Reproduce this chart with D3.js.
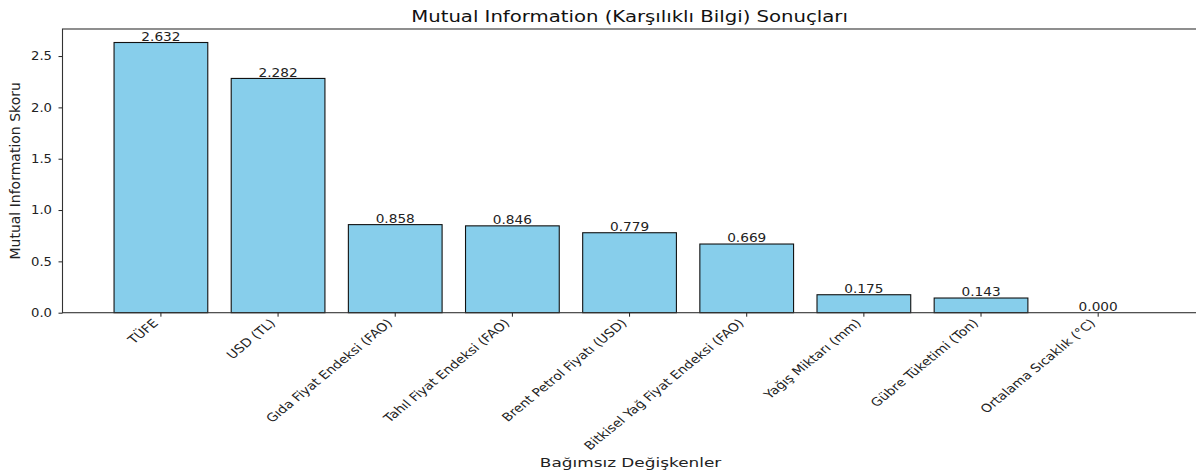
<!DOCTYPE html>
<html>
<head>
<meta charset="utf-8">
<script src="https://cdn.jsdelivr.net/npm/d3@7"></script>
<style>
  html, body { margin: 0; padding: 0; background: #fff; }
  svg { display: block; font-family: "DejaVu Sans", sans-serif; }
</style>
</head>
<body>
<div id="chart"></div>
<script>
const categories = [
  "TÜFE",
  "USD (TL)",
  "Gıda Fiyat Endeksi (FAO)",
  "Tahıl Fiyat Endeksi (FAO)",
  "Brent Petrol Fiyatı (USD)",
  "Bitkisel Yağ Fiyat Endeksi (FAO)",
  "Yağış Miktarı (mm)",
  "Gübre Tüketimi (Ton)",
  "Ortalama Sıcaklık (°C)"
];
const miScores = [2.632, 2.282, 0.858, 0.846, 0.779, 0.669, 0.175, 0.143, 0.000];
const yTicks = [0.0, 0.5, 1.0, 1.5, 2.0, 2.5];
const titleText = "Mutual Information (Karşılıklı Bilgi) Sonuçları";
const xLabelText = "Bağımsız Değişkenler";
const yLabelText = "Mutual Information Skoru";

const W = 1196, H = 474;
const mLeft = 62.5, mRight = 1196.6, mTop = 29, mBottom = 312.7;

const svg = d3.select("#chart").append("svg").attr("width", W).attr("height", H);

const x = d3.scaleBand().domain(categories).range([mLeft, mRight])
  .paddingInner(0.2).paddingOuter(0.44);
const yMax = d3.max(miScores) * 1.05;
const y = d3.scaleLinear().domain([0, yMax]).range([mBottom, mTop]);

// bars
svg.append("g").selectAll("rect").data(miScores).join("rect")
  .attr("x", (d, i) => x(categories[i]))
  .attr("y", d => y(d))
  .attr("width", x.bandwidth())
  .attr("height", d => y(0) - y(d))
  .attr("fill", "#87CEEB")
  .attr("stroke", "#111")
  .attr("stroke-width", 1.1);

// value labels
svg.append("g").selectAll("text").data(miScores).join("text")
  .attr("transform", (d, i) => `translate(${x(categories[i]) + x.bandwidth() / 2},${y(d) - 1.6}) scale(1.14,1)`)
  .attr("text-anchor", "middle")
  .attr("font-size", 12)
  .attr("fill", "#222")
  .text(d => d.toFixed(3));

// y axis
const yAxis = d3.axisLeft(y).tickValues(yTicks).tickFormat(d3.format(".1f")).tickSizeOuter(0).tickSize(4);
const gy = svg.append("g").attr("transform", `translate(${mLeft},0)`).call(yAxis);
gy.select(".domain").remove();
gy.selectAll("text")
  .attr("x", null)
  .attr("transform", "translate(-10.5,0) scale(1.1,1)")
  .attr("font-size", 12).attr("font-family", "DejaVu Sans").attr("fill", "#222");
gy.selectAll("line").attr("stroke", "#222");

// x axis
const xAxis = d3.axisBottom(x).tickSizeOuter(0).tickSize(4).tickFormat(() => "");
const gx = svg.append("g").attr("transform", `translate(0,${mBottom})`).call(xAxis);
gx.select(".domain").remove();
gx.selectAll("line").attr("stroke", "#222");

// rotated x tick labels
const fs = 11.5;
svg.append("g").selectAll("text").data(categories).join("text")
  .attr("transform", d => {
    const cx = x(d) + x.bandwidth() / 2;
    const tx = cx - 2;
    const ty = mBottom + 5 + 0.707 * 0.76 * fs;
    return `translate(${tx},${ty}) scale(1.22,1) rotate(-45)`;
  })
  .attr("text-anchor", "end")
  .attr("font-size", fs)
  .attr("fill", "#222")
  .text(d => d);

// frame (spines)
svg.append("rect")
  .attr("x", mLeft).attr("y", mTop)
  .attr("width", mRight - mLeft).attr("height", mBottom - mTop)
  .attr("fill", "none").attr("stroke", "#333").attr("stroke-width", 1.1);

// title
svg.append("text")
  .attr("transform", `translate(${(mLeft + mRight) / 2},22) scale(1.23,1)`)
  .attr("text-anchor", "middle").attr("font-size", 16).attr("fill", "#111")
  .text(titleText);

// x label
svg.append("text")
  .attr("transform", `translate(${(mLeft + mRight) / 2 + 1},467) scale(1.3,1)`)
  .attr("text-anchor", "middle").attr("font-size", 13).attr("fill", "#222")
  .text(xLabelText);

// y label
svg.append("text").attr("transform", `translate(20,${(mTop + mBottom) / 2}) rotate(-90)`)
  .attr("text-anchor", "middle").attr("font-size", 14).attr("fill", "#222")
  .text(yLabelText);
</script>
</body>
</html>
